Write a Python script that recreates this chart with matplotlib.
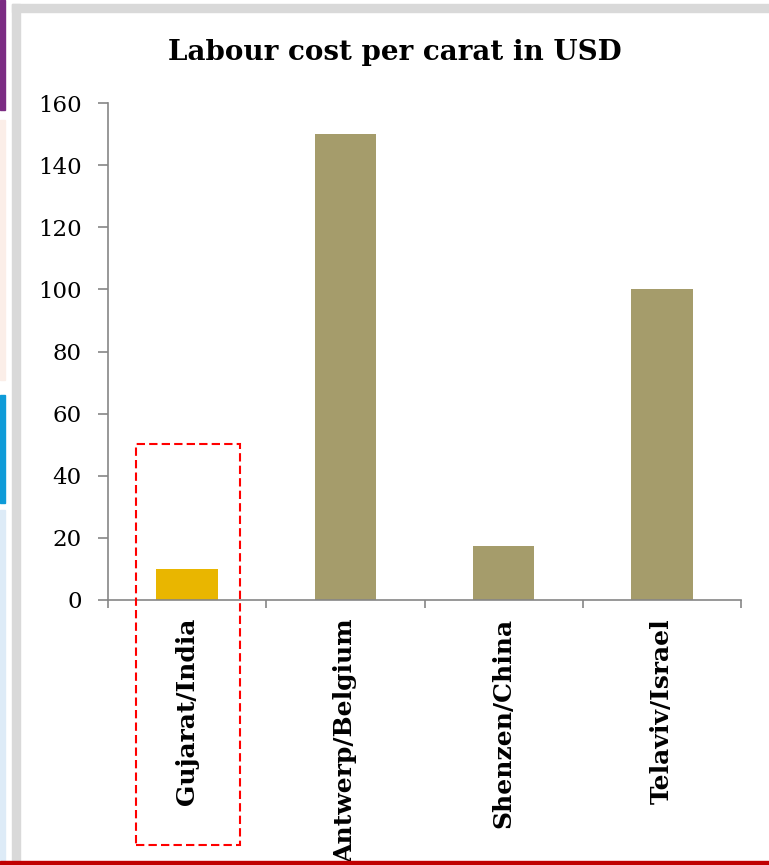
import numpy as np
import matplotlib.pyplot as plt
from matplotlib.patches import Rectangle

# data
cities = ["Gujarat/India", "Antwerp/Belgium", "Shenzen/China", "Telaviv/Israel"]
cost_usd = [10, 150, 17.5, 100]
bar_colors = ["#E9B600", "#A59C6B", "#A59C6B", "#A59C6B"]

plt.rcParams['font.family'] = ['DejaVu Serif']

W, H = 769, 865
fig = plt.figure(figsize=(W / 100, H / 100), dpi=100)

# page decorations (slide frame)
def px_rect(x0, y0, x1, y1, color):
    fig.patches.append(Rectangle((x0 / W, 1 - y1 / H), (x1 - x0) / W, (y1 - y0) / H,
                                 transform=fig.transFigure, color=color, zorder=0))

px_rect(0, 0, 5, 110, "#7B2C83")
px_rect(0, 120, 5, 380, "#FBEEE8")
px_rect(0, 395, 5, 503, "#0E9BD8")
px_rect(0, 510, 5, 860, "#DDEBF7")
px_rect(12, 4, W, 12, "#D9D9D9")
px_rect(12, 4, 20, H, "#D9D9D9")
px_rect(0, 861, W, H, "#C00000")

ax = fig.add_axes([108 / W, 1 - 600 / H, (741 - 108) / W, (600 - 103) / H])
x = np.arange(len(cities))
ax.bar(x, cost_usd, width=0.39, color=bar_colors, zorder=2)

ax.set_xlim(-0.5, 3.5)
ax.set_ylim(0, 160)
ax.set_yticks(np.arange(0, 161, 20))
ax.tick_params(axis='y', labelsize=16.5, length=7, width=1.2, color="#868686", pad=12)
ax.set_xticks(x)
ax.set_xticklabels(cities, rotation=90, fontsize=18, fontweight='bold', va='top')
ax.tick_params(axis='x', length=0, pad=13)
ax.set_xticks(np.arange(-0.5, 4, 1), minor=True)
ax.tick_params(axis='x', which='minor', length=6, width=1.2, color="#868686")

for s in ["top", "right"]:
    ax.spines[s].set_visible(False)
for s in ["left", "bottom"]:
    ax.spines[s].set_color("#868686")
    ax.spines[s].set_linewidth(1.2)

# highlight box around Gujarat
ax.add_patch(Rectangle((-0.323, -78.9), 0.657, 129.1, fill=False, edgecolor="#FF0000",
                       linestyle=(0, (4, 2)), linewidth=1.5, clip_on=False, zorder=3))

fig.text(395 / W, 1 - 52 / H, "Labour cost per carat in USD", ha='center', va='center',
         fontsize=20, fontweight='bold')

fig.savefig("out.png", dpi=100)
